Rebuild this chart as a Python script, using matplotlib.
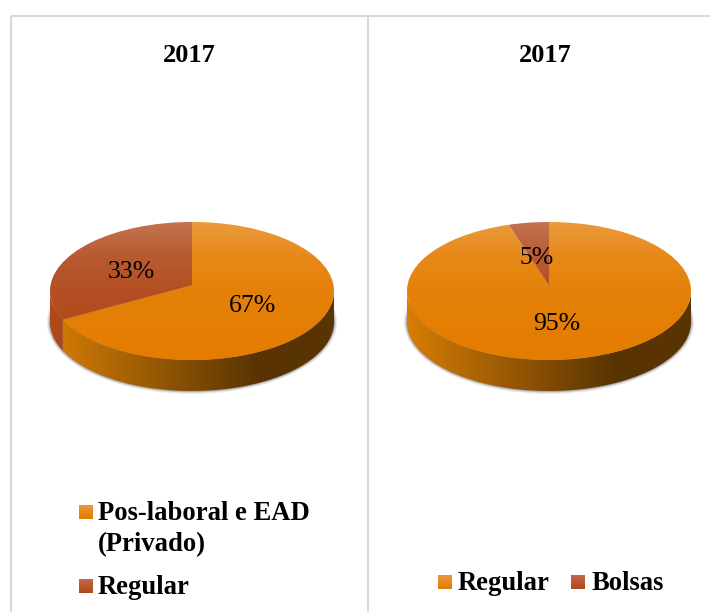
import numpy as np
import matplotlib
matplotlib.use("Agg")
import matplotlib.pyplot as plt
from matplotlib.patches import Ellipse
from matplotlib.path import Path

plt.rcParams['font.family'] = ['Liberation Serif', 'DejaVu Serif']

# ---- data
titles = ["2017", "2017"]
left_labels = ["Pos-laboral e EAD\n(Privado)", "Regular"]
left_values = [67, 33]
right_labels = ["Regular", "Bolsas"]
right_values = [95, 5]

# ---- styles and layout (pixels)
W, H = 710, 612
ORANGE, BROWN = "#E47C00", "#B0481A"
SIDE_RGB = [np.array([0.84, 0.49, 0.02]), np.array([0.70, 0.29, 0.10])]
RX, RY, DEPTH = 142, 69, 31
APEX = 0.085
GRID = "#D9D9D9"

fig = plt.figure(figsize=(W / 100, H / 100), dpi=100, facecolor="white")


def seam_angle(theta_deg):
    """Where a slice edge drawn from the off-centre apex meets the ellipse."""
    t = np.deg2rad(theta_deg)
    sn, cs = np.sin(t), np.cos(t)
    s = -APEX * sn + np.sqrt(APEX**2 * sn**2 - APEX**2 + 1)
    a = np.rad2deg(np.arctan2(APEX + s * sn, s * cs))
    while a > theta_deg + 180:
        a -= 360
    while a < theta_deg - 180:
        a += 360
    return a


def draw_pie(cx, cy, values):
    pad = 12
    x0, x1 = cx - RX - pad, cx + RX + pad
    y0, y1 = cy - RY - pad, cy + RY + DEPTH + pad
    ax = fig.add_axes([x0 / W, 1 - y1 / H, (x1 - x0) / W, (y1 - y0) / H], zorder=1)
    xlim = (-1 - pad / RX, 1 + pad / RX)
    ylim = (-1 - (DEPTH + pad) / RY, 1 + pad / RY)

    # soft shadow under the disc
    for grow, alpha in [(0.022, 0.07), (0.016, 0.10), (0.010, 0.14), (0.005, 0.2)]:
        ax.add_patch(Ellipse((0, -DEPTH / RY), 2 + 2 * grow, 2 + 4 * grow,
                             fc="#303030", ec="none", alpha=alpha, zorder=1))

    # side wall, one band per slice
    edges = 90 - np.concatenate([[0], np.cumsum(values)]) * 3.6
    edges = np.array([seam_angle(e) for e in edges])
    xs = np.linspace(-1, 1, 400)
    shade = np.interp(xs, [-1, 0.45, 1], [1.0, 0.42, 0.42])
    for i in range(len(values)):
        hi, lo = min(edges[i], 0), max(edges[i + 1], -180)
        if lo >= hi:
            continue
        t = np.deg2rad(np.linspace(lo, hi, 120))
        upper = np.column_stack([np.cos(t), np.sin(t)])
        lower = np.column_stack([np.cos(t), np.sin(t) - DEPTH / RY])[::-1]
        band = Path(np.vstack([upper, lower, upper[:1]]))
        img = np.outer(shade, SIDE_RGB[i])[None, :, :]
        im = ax.imshow(img, extent=(-1, 1, -2, 1), aspect="auto", zorder=2,
                       interpolation="bilinear")
        im.set_clip_path(band, ax.transData)

    # top surface
    wedges, _ = ax.pie(values, colors=[ORANGE, BROWN], startangle=90, counterclock=False,
                       radius=1.25, center=(0, APEX), wedgeprops=dict(linewidth=0))
    clip = Ellipse((0, 0), 2, 2, transform=ax.transData)
    for w in wedges:
        w.set_zorder(3)
        w.set_clip_on(True)
        w.set_clip_path(clip)

    # lighter sheen towards the back of the disc
    ys = np.linspace(1, -1, 200)
    sheen = np.ones((200, 1, 4))
    sheen[:, 0, 3] = np.interp(ys, [-1, 0, 0.5, 1], [0.0, 0.04, 0.10, 0.24])
    im = ax.imshow(sheen, extent=(-1, 1, -1, 1), aspect="auto", zorder=4)
    im.set_clip_path(Ellipse((0, 0), 2, 2, transform=ax.transData))

    ax.set_aspect("auto")
    ax.set_xlim(xlim)
    ax.set_ylim(ylim)
    ax.axis("off")


draw_pie(192, 291, left_values)
draw_pie(549, 291, right_values)

# ---- overlay in pixel coordinates: frame, titles, labels, legends
ov = fig.add_axes([0, 0, 1, 1], zorder=5)
ov.patch.set_alpha(0)
ov.axis("off")

for xs_, ys_ in [((11, W), (16, 16)), ((11, 11), (16, H)), ((367.5, 367.5), (16, H))]:
    ov.plot(xs_, ys_, color=GRID, lw=1.5, solid_capstyle="butt")

for x, t in zip((189.5, 545.5), titles):
    ov.text(x, 62, t, ha="center", va="baseline", fontsize=19, fontweight="bold")

for v, (x, y) in zip(left_values + right_values,
                     [(253, 304), (131, 270), (557, 321), (537, 255)]):
    ov.text(x, y, f"{v}%", ha="center", va="center_baseline", fontsize=18.5, color="black")


def swatch(x, y, top, bottom):
    c0, c1 = matplotlib.colors.to_rgb(top), matplotlib.colors.to_rgb(bottom)
    img = np.linspace(c0, c1, 14)[:, None, :]
    ov.imshow(img, extent=(x, x + 14, y + 14, y), aspect="auto", interpolation="bilinear")


OR = ("#EC9440", "#E47C00")
BR = ("#C4674A", "#B0481A")
swatch(79, 505, *OR)
swatch(79, 579, *BR)
swatch(438, 575, *OR)
swatch(571, 575, *BR)

first, second = left_labels[0].split("\n")
legend_font = dict(ha="left", va="baseline", fontsize=19.2, fontweight="bold")
ov.text(98, 520, first, **legend_font)
ov.text(98, 551, second, **legend_font)
ov.text(98, 594, left_labels[1], **legend_font)
ov.text(458, 590, right_labels[0], **legend_font)
ov.text(591, 590, right_labels[1], **legend_font)

ov.set_xlim(0, W)
ov.set_ylim(H, 0)

fig.savefig("out.png", dpi=100)
